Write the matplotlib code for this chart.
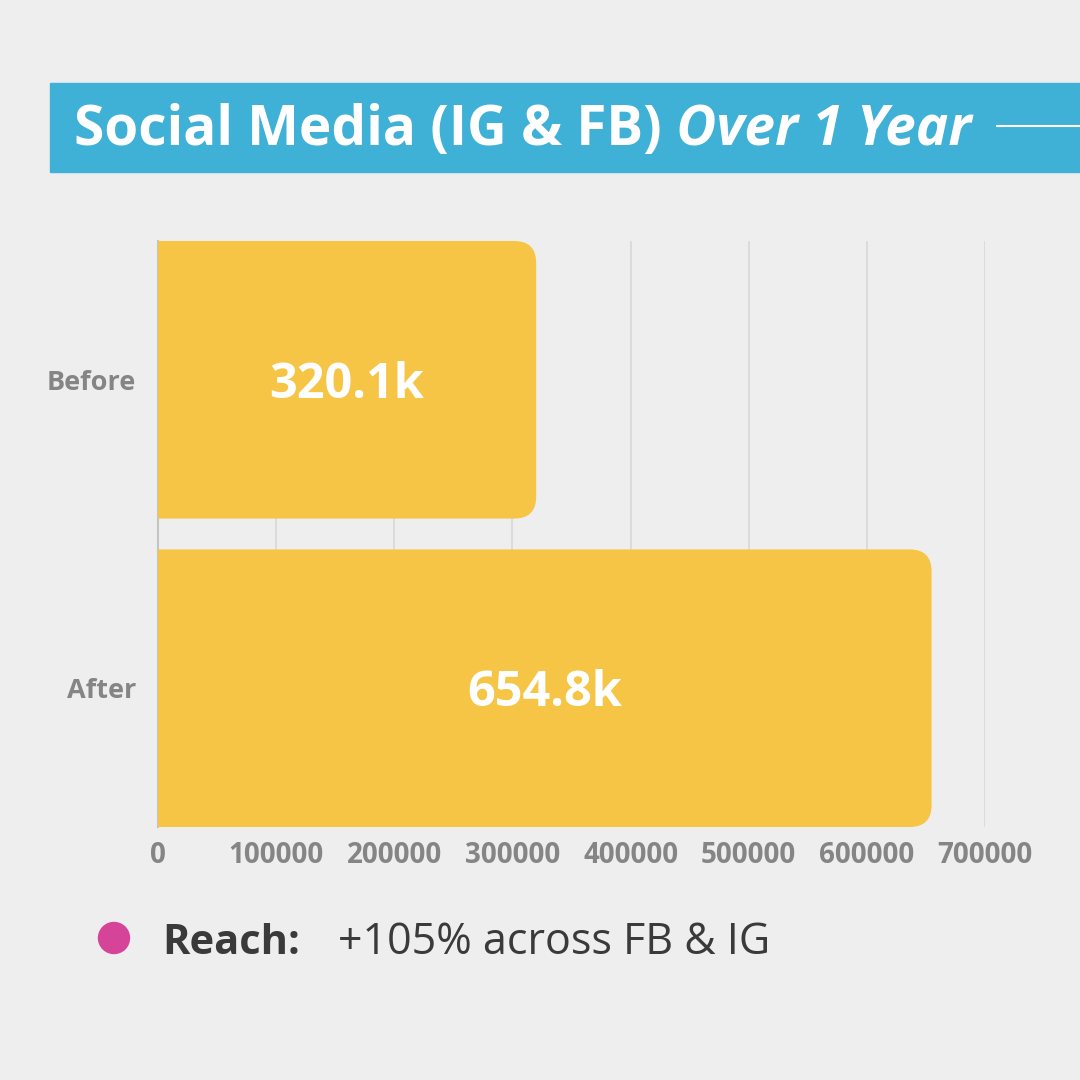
'''
Horizontal bar chart of social media reach before and after one year.
'''

from matplotlib import pyplot as plt
from matplotlib.path import Path
from matplotlib.patches import PathPatch, Rectangle, Circle

categories = ["Before", "After"]
reach = [320100, 654800]
value_labels = ["320.1k", "654.8k"]
x_ticks = [0, 100000, 200000, 300000, 400000, 500000, 600000, 700000]

BG = "#EEEEEE"
BANNER = "#3FB0D6"
BAR = "#F6C545"
GREY = "#858585"
DARK = "#3A3A3A"
DOT = "#D6449A"

plt.rcParams['font.family'] = ['Open Sans', 'DejaVu Sans']

W = H = 1080
fig = plt.figure(figsize=(10.8, 10.8), dpi=100, facecolor=BG)


def fx(px):
    return px / W


def fy(px):
    return 1 - px / H


# title banner
fig.patches.append(Rectangle((fx(50), fy(172)), fx(1030), 89 / H,
                             transform=fig.transFigure, color=BANNER,
                             zorder=0))
title = fig.text(fx(74), fy(131), "Social Media (IG & FB)", color="white",
                 fontsize=39.5, fontweight="bold", va="center", ha="left")
fig.canvas.draw()
bb = title.get_window_extent().transformed(fig.transFigure.inverted())
fig.text(bb.x1, fy(131), " Over 1 Year", color="white", fontsize=39.5,
         fontweight="bold", fontstyle="italic", va="center", ha="left")
fig.add_artist(plt.Line2D([fx(997), 1], [fy(126), fy(126)], color="white",
                          lw=1.5, transform=fig.transFigure))

# bar chart area
ax_l, ax_r, ax_t, ax_b = 158, 985, 241, 827
ax = fig.add_axes([fx(ax_l), fy(ax_b), (ax_r - ax_l) / W, (ax_b - ax_t) / H])
ax.set_facecolor(BG)

bar_h = 0.9
ypos = list(range(len(categories)))
bars = ax.barh(ypos, reach, height=bar_h, color=BAR, zorder=3)
ax.set_xlim(0, 700000)
ax.set_ylim(len(categories) - 1 + bar_h / 2, -bar_h / 2)

# swap square bars for ones rounded on the right end
r_px = 22
rx = r_px * 700000 / (ax_r - ax_l)
ry = r_px * (len(categories) - 1 + bar_h) / (ax_b - ax_t)
for rect in bars:
    x0, y0 = rect.get_x(), rect.get_y()
    x1, y1 = x0 + rect.get_width(), y0 + rect.get_height()
    verts = [(x0, y0), (x1 - rx, y0), (x1, y0), (x1, y0 + ry),
             (x1, y1 - ry), (x1, y1), (x1 - rx, y1), (x0, y1), (x0, y0)]
    codes = [Path.MOVETO, Path.LINETO, Path.CURVE3, Path.CURVE3,
             Path.LINETO, Path.CURVE3, Path.CURVE3, Path.LINETO,
             Path.CLOSEPOLY]
    rect.set_visible(False)
    ax.add_patch(PathPatch(Path(verts, codes), facecolor=BAR,
                           edgecolor="none", zorder=3))

for y, v, lab in zip(ypos, reach, value_labels):
    ax.annotate(lab, (v / 2, y), xytext=(0, -4), textcoords="offset points",
                color="white", fontsize=35, fontweight="bold",
                ha="center", va="center", zorder=4)

ax.set_yticks(ypos)
ax.set_yticklabels(categories)
ax.set_xticks(x_ticks)
ax.set_xticklabels([str(t) for t in x_ticks])
ax.tick_params(axis="y", length=0, pad=16, labelsize=19.5, labelcolor=GREY)
ax.tick_params(axis="x", length=0, pad=10, labelsize=20, labelcolor=GREY)
for lab in ax.get_xticklabels() + ax.get_yticklabels():
    lab.set_fontweight("bold")

ax.grid(axis="x", color="#D8D8D8", lw=1.2, zorder=0)
ax.set_axisbelow(True)
for side in ["top", "right", "bottom"]:
    ax.spines[side].set_visible(False)
ax.spines["left"].set_color("#C4C4C4")
ax.spines["left"].set_linewidth(1.5)

# footnote
fig.patches.append(Circle((fx(114), fy(938)), 15.5 / W,
                          transform=fig.transFigure, color=DOT))
fig.text(fx(162), fy(943), "Reach:", color=DARK, fontsize=30,
         fontweight="bold", va="center", ha="left")
fig.text(fx(338), fy(943), "+105% across FB & IG", color=DARK, fontsize=31,
         va="center", ha="left")

plt.savefig("out.png", dpi=100, facecolor=BG)
